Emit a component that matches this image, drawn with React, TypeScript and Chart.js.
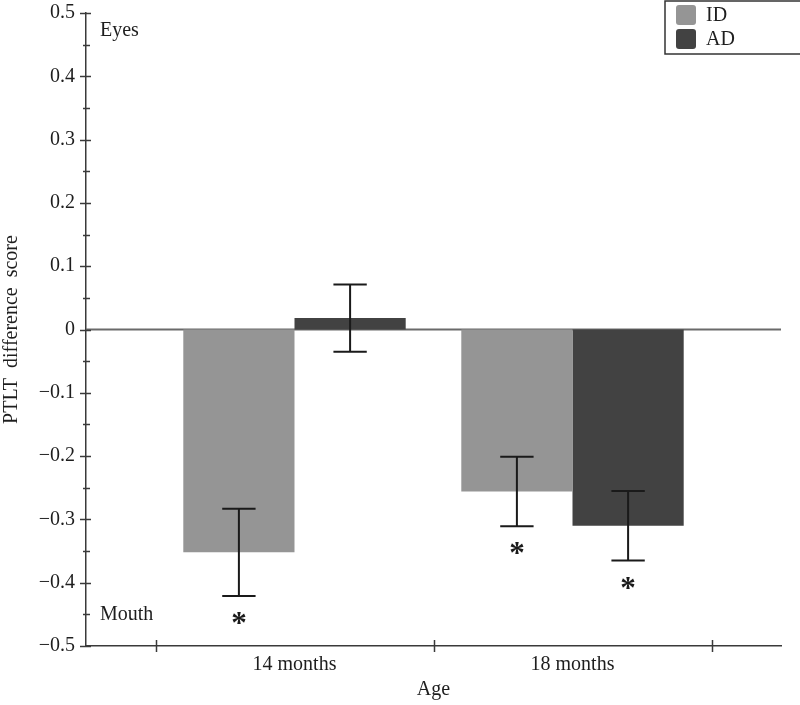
import React, { useEffect, useRef } from "react";
import { Chart, registerables } from "chart.js";

Chart.register(...registerables);

// ---------- data ----------
const categories = ["14 months", "18 months"];
const seriesNames = ["ID", "AD"];
const idMeans = [-0.352, -0.256];
const adMeans = [0.018, -0.31];
const idErrors = [0.069, 0.055];
const adErrors = [0.053, 0.055];
const idSignificant = [true, true];
const adSignificant = [false, true];
const yMajorTicks = [-0.5, -0.4, -0.3, -0.2, -0.1, 0, 0.1, 0.2, 0.3, 0.4, 0.5];
const yTickLabels = ["−0.5", "−0.4", "−0.3", "−0.2", "−0.1", "0", "0.1", "0.2", "0.3", "0.4", "0.5"];
const regionLabels = ["Eyes", "Mouth"];
const xTitle = "Age";
const yTitle = "PTLT  difference  score";

const seriesColors = ["#959595", "#424242"];
const FONT = "'Liberation Serif', 'Times New Roman', serif";
const TEXT = "#1e1e1e";
const AXIS = "#3a3a3a";

const positions = categories.map((_, i) => i + 1);

const errorsBySeries = [idErrors, adErrors];
const sigBySeries = [idSignificant, adSignificant];

const decorPlugin = {
  id: "decor",
  beforeDatasetsDraw(chart: any) {
    const { ctx, chartArea } = chart;
    const y = chart.scales.y;
    const y0 = y.getPixelForValue(0);
    ctx.save();
    ctx.strokeStyle = "#6a6a6a";
    ctx.lineWidth = 2;
    ctx.beginPath();
    ctx.moveTo(chartArea.left, y0);
    ctx.lineTo(chartArea.right, y0);
    ctx.stroke();
    ctx.restore();
  },
  afterDatasetsDraw(chart: any) {
    const { ctx } = chart;
    const yScale = chart.scales.y;
    ctx.save();
    chart.data.datasets.forEach((ds: any, di: number) => {
      const meta = chart.getDatasetMeta(di);
      meta.data.forEach((bar: any, i: number) => {
        const mean = (ds.data[i] as any).y;
        const err = errorsBySeries[di][i];
        const x = bar.x;
        const top = yScale.getPixelForValue(mean + err);
        const bot = yScale.getPixelForValue(mean - err);
        const cap = bar.width * 0.3;
        ctx.strokeStyle = "#1a1a1a";
        ctx.lineWidth = 2;
        ctx.beginPath();
        ctx.moveTo(x, top);
        ctx.lineTo(x, bot);
        ctx.moveTo(x - cap / 2, top);
        ctx.lineTo(x + cap / 2, top);
        ctx.moveTo(x - cap / 2, bot);
        ctx.lineTo(x + cap / 2, bot);
        ctx.stroke();
        if (sigBySeries[di][i]) {
          ctx.fillStyle = "#1a1a1a";
          ctx.font = `bold 31px ${FONT}`;
          ctx.textAlign = "center";
          ctx.textBaseline = "alphabetic";
          const m = ctx.measureText("*");
          const cy = bot + 22;
          ctx.fillText("*", x, cy + (m.actualBoundingBoxAscent - m.actualBoundingBoxDescent) / 2);
        }
      });
    });
    ctx.restore();
  },
  afterDraw(chart: any) {
    const { ctx, chartArea } = chart;
    const xs = chart.scales.x;
    const ys = chart.scales.y;
    ctx.save();
    ctx.strokeStyle = AXIS;
    ctx.lineWidth = 1.5;
    // y tick marks (crossing axis)
    ys.ticks.forEach((t: any) => {
      const py = Math.round(ys.getPixelForValue(t.value)) + 0.5;
      const major = t.label !== "";
      ctx.beginPath();
      ctx.moveTo(chartArea.left - (major ? 6 : 3), py);
      ctx.lineTo(chartArea.left + (major ? 5 : 4), py);
      ctx.stroke();
    });
    // x tick marks at category boundaries
    const bounds = [positions[0] - 0.5, ...positions.map((p) => p + 0.5)];
    bounds.forEach((b) => {
      const px = Math.round(xs.getPixelForValue(b)) + 0.5;
      ctx.beginPath();
      ctx.moveTo(px, chartArea.bottom - 6);
      ctx.lineTo(px, chartArea.bottom + 6);
      ctx.stroke();
    });
    // region labels
    ctx.fillStyle = TEXT;
    ctx.font = `20px ${FONT}`;
    ctx.textAlign = "left";
    ctx.textBaseline = "middle";
    ctx.fillText(regionLabels[0], chartArea.left + 14, chartArea.top + 18);
    ctx.fillText(regionLabels[1], chartArea.left + 14, chartArea.bottom - 31);
    // legend box
    const lx = 665;
    const lw = 137;
    const ly = 1;
    const lh = 53;
    ctx.strokeStyle = "#333";
    ctx.lineWidth = 1.5;
    ctx.strokeRect(lx, ly, lw, lh);
    chart.data.datasets.forEach((ds: any, di: number) => {
      const rowY = 15 + di * 24;
      ctx.fillStyle = ds.backgroundColor;
      const sx = 676;
      const sy = rowY - 10;
      const s = 20;
      const r = 3;
      ctx.beginPath();
      ctx.moveTo(sx + r, sy);
      ctx.arcTo(sx + s, sy, sx + s, sy + s, r);
      ctx.arcTo(sx + s, sy + s, sx, sy + s, r);
      ctx.arcTo(sx, sy + s, sx, sy, r);
      ctx.arcTo(sx, sy, sx + s, sy, r);
      ctx.closePath();
      ctx.fill();
      ctx.fillStyle = TEXT;
      ctx.font = `20px ${FONT}`;
      ctx.textAlign = "left";
      ctx.textBaseline = "middle";
      ctx.fillText(ds.label, 706, rowY + 1);
    });
    ctx.restore();
  },
};

export default function App() {
  const ref = useRef<HTMLCanvasElement>(null);
  useEffect(() => {
    document.body.style.margin = "0";
    const chart = new Chart(ref.current as HTMLCanvasElement, {
      type: "bar",
      data: {
        datasets: [
          {
            label: seriesNames[0],
            data: positions.map((p, i) => ({ x: p, y: idMeans[i] })),
            backgroundColor: seriesColors[0],
            borderWidth: 0,
            categoryPercentage: 0.8,
            barPercentage: 1.0,
          },
          {
            label: seriesNames[1],
            data: positions.map((p, i) => ({ x: p, y: adMeans[i] })),
            backgroundColor: seriesColors[1],
            borderWidth: 0,
            categoryPercentage: 0.8,
            barPercentage: 1.0,
          },
        ],
      },
      options: {
        responsive: false,
        animation: false,
        layout: { padding: { top: 13, right: 19, left: 0, bottom: 0 } },
        plugins: {
          legend: { display: false },
          tooltip: { enabled: false },
        },
        scales: {
          x: {
            type: "linear",
            offset: false,
            min: positions[0] - 0.75,
            max: positions[positions.length - 1] + 0.75,
            afterBuildTicks: (s: any) => {
              s.ticks = positions.map((v) => ({ value: v }));
            },
            afterFit: (s: any) => {
              s.height = 59;
              s.paddingLeft = 0;
              s.paddingRight = 0;
            },
            ticks: {
              autoSkip: false,
              maxRotation: 0,
              padding: 7,
              color: TEXT,
              font: { family: FONT, size: 20 },
              callback: (v: any) => categories[Math.round(v) - 1] ?? "",
            },
            grid: { display: false, drawTicks: false, tickLength: 0, offset: false },
            border: { display: true, color: AXIS, width: 1.5 },
            title: {
              display: true,
              text: xTitle,
              color: TEXT,
              font: { family: FONT, size: 20 },
              padding: { top: 0, bottom: 3 },
            },
          },
          y: {
            type: "linear",
            min: yMajorTicks[0],
            max: yMajorTicks[yMajorTicks.length - 1],
            afterBuildTicks: (s: any) => {
              const t: any[] = [];
              yMajorTicks.forEach((v, i) => {
                t.push({ value: v });
                if (i < yMajorTicks.length - 1) t.push({ value: (v + yMajorTicks[i + 1]) / 2 });
              });
              s.ticks = t;
            },
            afterFit: (s: any) => {
              s.width = 86;
              s.paddingTop = 0;
              s.paddingBottom = 0;
            },
            ticks: {
              autoSkip: false,
              padding: 11,
              color: TEXT,
              font: { family: FONT, size: 20 },
              callback: (v: any) => {
                const idx = yMajorTicks.findIndex((m) => Math.abs(m - v) < 1e-6);
                return idx >= 0 ? yTickLabels[idx] : "";
              },
            },
            grid: { display: false, drawTicks: false, tickLength: 0 },
            border: { display: true, color: AXIS, width: 1.5 },
            title: {
              display: true,
              text: yTitle,
              color: TEXT,
              font: { family: FONT, size: 20 },
              padding: { top: 0, bottom: 0 },
            },
          },
        },
      },
      plugins: [decorPlugin],
    } as any);
    return () => chart.destroy();
  }, []);
  return (
    <div style={{ width: 800, height: 705 }}>
      <canvas ref={ref} width={800} height={705} style={{ display: "block" }} />
    </div>
  );
}
